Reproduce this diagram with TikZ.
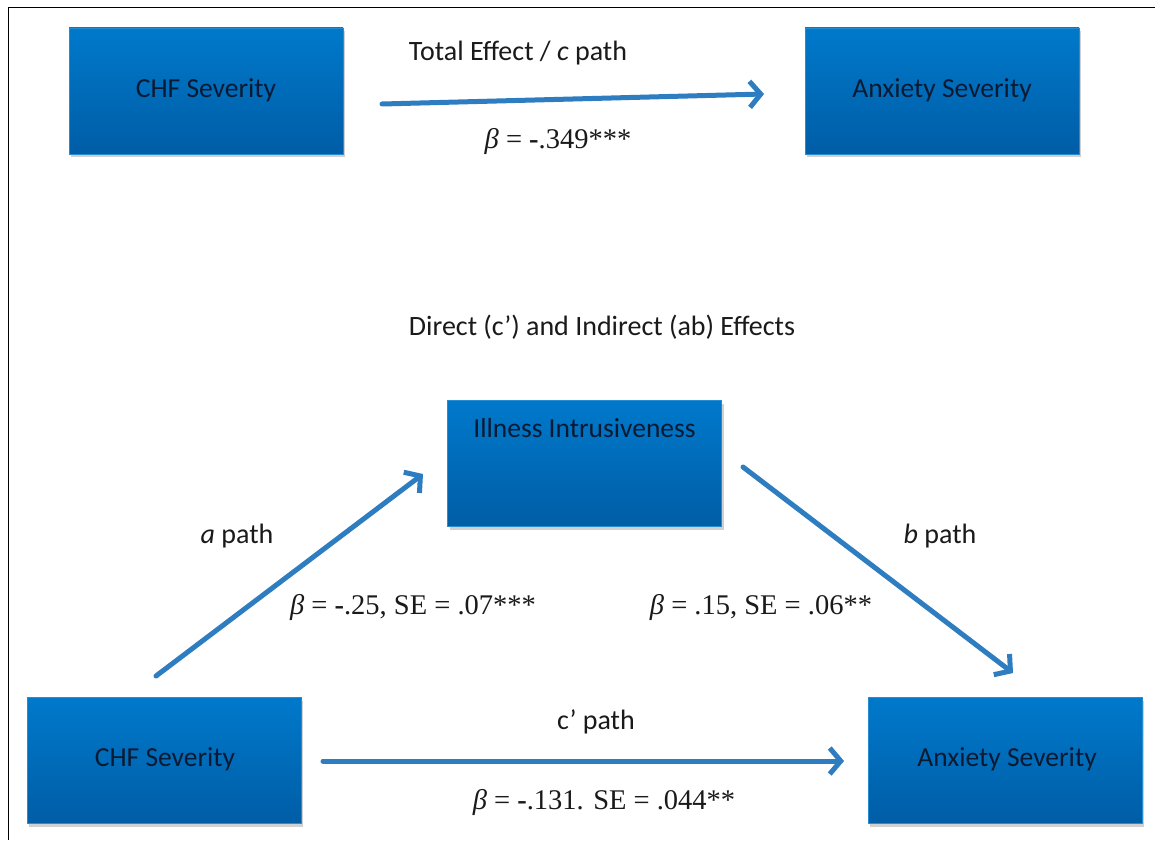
\documentclass[tikz,border=0pt]{standalone}
\usepackage{fontspec}
\setmainfont{Liberation Serif}
\newfontfamily\calibrifont{Carlito}
\usetikzlibrary{arrows.meta,shadows}
\definecolor{boxtop}{HTML}{0079CB}
\definecolor{boxbot}{HTML}{005DA6}
\definecolor{boxtext}{HTML}{0B1A33}
\definecolor{arrowblue}{HTML}{2E7DC1}
\definecolor{labtext}{HTML}{1A1A1A}
\tikzset{
  varbox/.style={rectangle, minimum width=274pt, minimum height=126pt, inner sep=0pt,
    top color=boxtop, bottom color=boxbot, draw=boxtop!85!white, line width=0.5pt,
    drop shadow={shadow xshift=2pt, shadow yshift=-3pt, opacity=0.3, fill=black!60}},
  boxlabel/.style={font=\calibrifont\fontsize{27.5}{32}\selectfont, text=boxtext, inner sep=0pt},
  calabel/.style={font=\calibrifont\fontsize{28}{32}\selectfont, text=labtext, inner sep=0pt},
  statlabel/.style={font=\fontsize{28.5}{32}\selectfont, text=labtext, inner sep=0pt},
  patharrow/.style={draw=arrowblue, line width=5pt, line cap=round,
    -{Straight Barb[length=11pt,width=26pt,line width=5pt]}},
}
\begin{document}
\begin{tikzpicture}[x=1pt,y=-1pt]
\useasboundingbox (0,0) rectangle (1155,840);
\fill[white] (0,0) rectangle (1155,840);
% frame
\draw[black, line width=1.6pt] (1155,7.5) -- (8.5,7.5) -- (8.5,840);

% top boxes
\node[varbox] (chf1) at (206,91) {};
\node[boxlabel] (chf1t) at (206,90) {CHF Severity};
\node[varbox] (anx1) at (942,91) {};
\node[boxlabel] (anx1t) at (942,90) {Anxiety Severity};

\coordinate (c1s) at (382,104);
\coordinate (c1e) at (764,94);
\draw[patharrow] (c1s) -- (c1e);
\node[calabel] (tot) at (518,53) {Total Effect / \textit{c} path};
\node[statlabel] (b1) at (558,141) {\textit{β} = \textbf{-}.349***};

\node[calabel] (dir) at (602,327) {Direct (c\kern0.5pt’) and Indirect (ab) Effects};

% mediator
\node[varbox] (ill) at (584.5,463.5) {};
\node[boxlabel] (illt) at (584.5,428) {Illness Intrusiveness};

% bottom boxes
\node[varbox] (chf2) at (164,760.5) {};
\node[boxlabel] (chf2t) at (165,759) {CHF Severity};
\node[varbox] (anx2) at (1005,760.5) {};
\node[boxlabel] (anx2t) at (1007,759) {Anxiety Severity};

% a path
\coordinate (as) at (156,676);
\coordinate (ae) at (423,474);
\draw[patharrow] (as) -- (ae);
\node[calabel] (alab) at (237,536) {\textit{a} path};
\node[statlabel] (astat) at (413,607) {\textit{β} = \textbf{-}.25, SE = .07***};

% b path
\coordinate (bs) at (743,467);
\coordinate (be) at (1013,673);
\draw[patharrow] (bs) -- (be);
\node[calabel] (blab) at (940,536) {\textit{b} path};
\node[statlabel] (bstat) at (761,607) {\textit{β} = .15, SE = .06**};

% c' path
\coordinate (cs) at (323,761);
\coordinate (ce) at (844,761);
\draw[patharrow] (cs) -- (ce);
\node[calabel] (clab) at (596,722) {c\kern0.5pt’ path};
\node[statlabel] (cstat) at (604,802) {\textit{β} = \textbf{-}.131. SE = .044**};
\end{tikzpicture}
\end{document}
